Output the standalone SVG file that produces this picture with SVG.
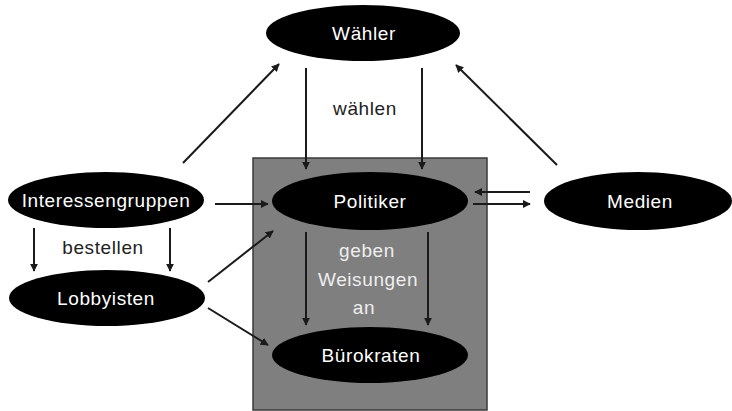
<svg xmlns="http://www.w3.org/2000/svg" width="732" height="411" viewBox="0 0 732 411">
<defs>
<marker id="ah" viewBox="0 0 10 10" refX="9" refY="5" markerWidth="4" markerHeight="4" orient="auto" markerUnits="strokeWidth">
<path d="M0,0 L10,5 L0,10 z" fill="#1a1a1a"/>
</marker>
</defs>
<style>
.node{fill:#000}
.lbl{fill:#fff;font-family:"Liberation Sans",Arial,sans-serif;font-size:19px;letter-spacing:0.6px;text-anchor:middle}
.edge{stroke:#1a1a1a;stroke-width:2;fill:none;marker-end:url(#ah)}
.elbl{fill:#222;font-family:"Liberation Sans",Arial,sans-serif;font-size:19px;letter-spacing:0.6px;text-anchor:middle}
.ilbl{fill:#eee;font-family:"Liberation Sans",Arial,sans-serif;font-size:19px;letter-spacing:0.6px;text-anchor:middle}
</style>
<rect width="732" height="411" fill="#fff"/>
<rect id="box" x="253" y="158" width="234" height="252" fill="#7f7f7f" stroke="#3a3a3a" stroke-width="1.5"/>
<g id="connectors">
<line class="edge" x1="183" y1="163" x2="279" y2="64"/>
<line class="edge" x1="557" y1="165" x2="456" y2="65"/>
<line class="edge" x1="306" y1="68" x2="306" y2="169"/>
<line class="edge" x1="422" y1="68" x2="422" y2="169"/>
<line class="edge" x1="215" y1="204" x2="268" y2="204"/>
<line class="edge" x1="208" y1="282" x2="273" y2="231"/>
<line class="edge" x1="208" y1="308" x2="268" y2="345"/>
<line class="edge" x1="34" y1="228" x2="34" y2="271"/>
<line class="edge" x1="170" y1="228" x2="170" y2="271"/>
<line class="edge" x1="306" y1="232" x2="306" y2="325"/>
<line class="edge" x1="428" y1="232" x2="428" y2="325"/>
<line class="edge" x1="530" y1="192" x2="475" y2="192"/>
<line class="edge" x1="473" y1="204" x2="530" y2="204"/>
<text class="elbl" x="365" y="115">wählen</text>
<text class="elbl" x="103" y="254">bestellen</text>
<text class="ilbl" x="367" y="257">geben</text>
<text class="ilbl" x="368" y="286">Weisungen</text>
<text class="ilbl" x="364" y="314">an</text>
</g>
<g id="waehler"><ellipse class="node" cx="363" cy="33" rx="97" ry="28"/><text class="lbl" x="364" y="40">Wähler</text></g>
<g id="politiker"><ellipse class="node" cx="370" cy="201" rx="98" ry="29"/><text class="lbl" x="370" y="208">Politiker</text></g>
<g id="buerokraten"><ellipse class="node" cx="370" cy="355" rx="98" ry="28"/><text class="lbl" x="371" y="362">Bürokraten</text></g>
<g id="interessengruppen"><ellipse class="node" cx="106" cy="200" rx="98" ry="28"/><text class="lbl" x="106" y="207">Interessengruppen</text></g>
<g id="lobbyisten"><ellipse class="node" cx="107" cy="298" rx="98" ry="28"/><text class="lbl" x="106" y="305">Lobbyisten</text></g>
<g id="medien"><ellipse class="node" cx="638" cy="201" rx="94" ry="29"/><text class="lbl" x="640" y="208">Medien</text></g>
</svg>
